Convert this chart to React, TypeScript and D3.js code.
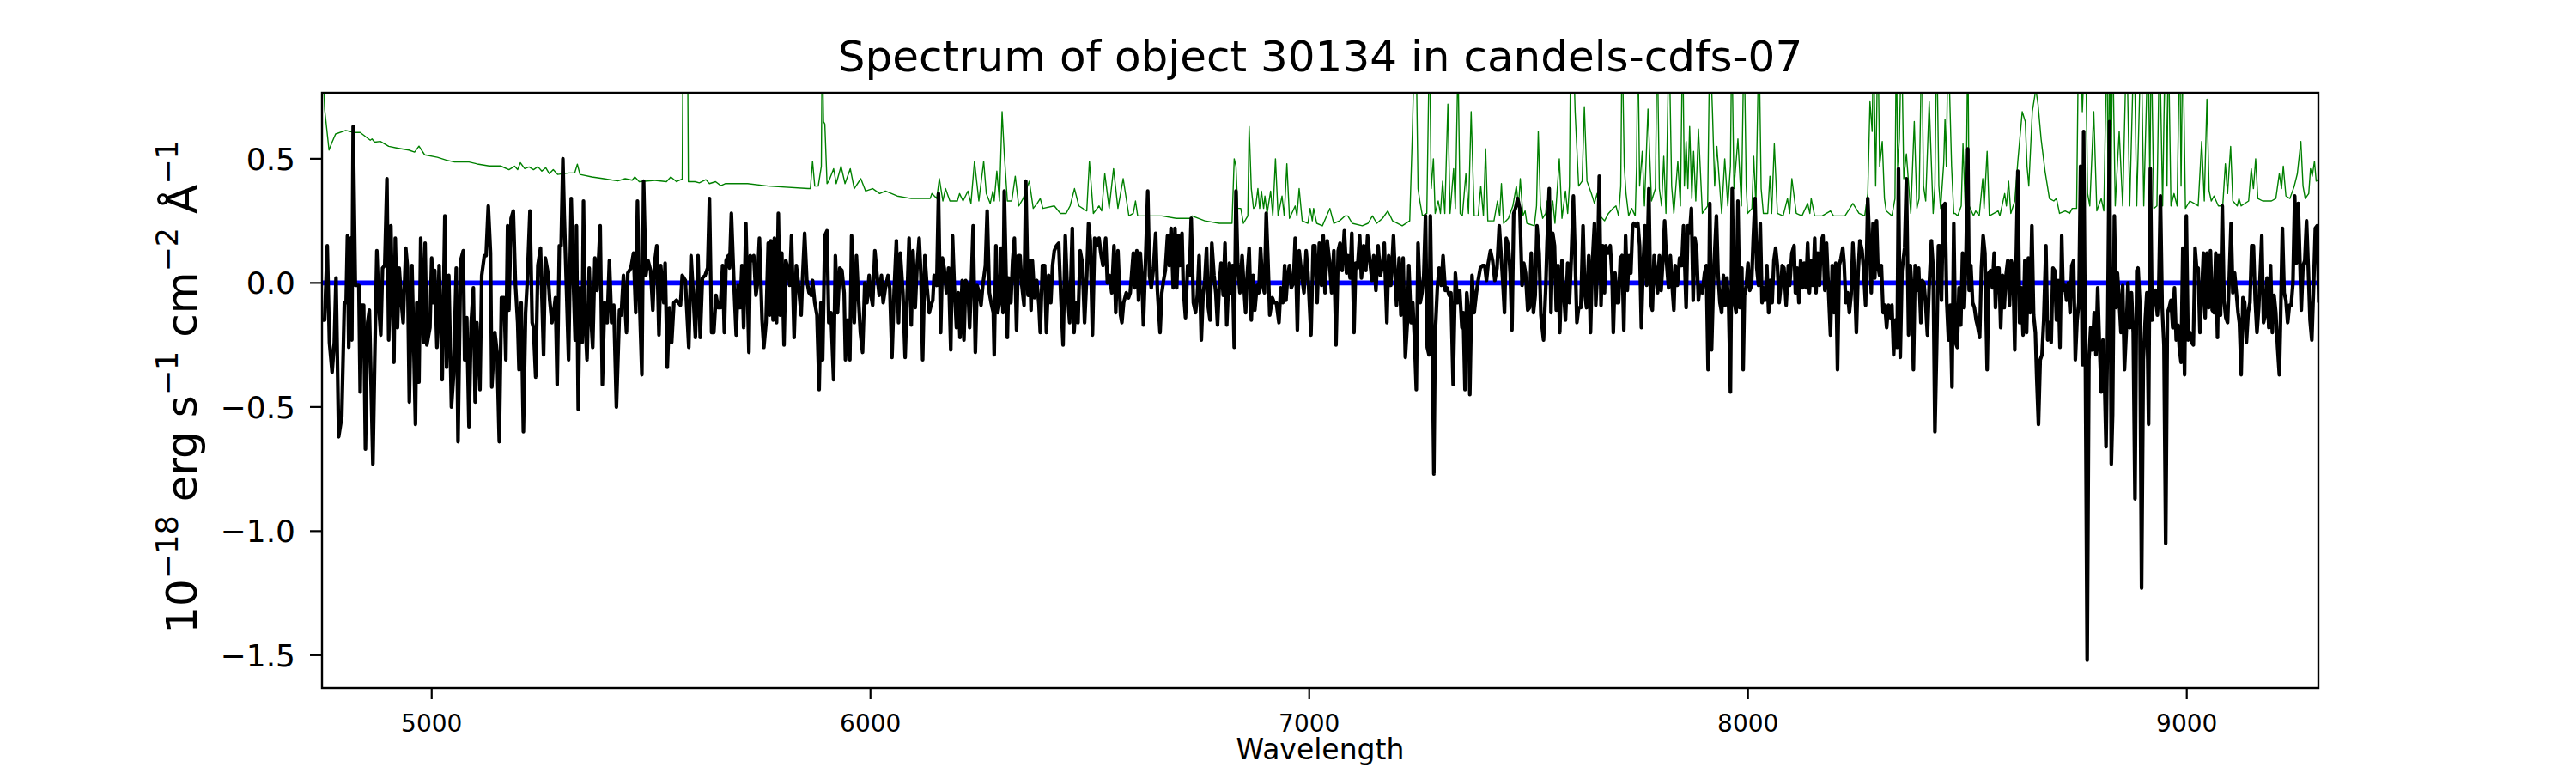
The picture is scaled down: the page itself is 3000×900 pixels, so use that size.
import React from 'react';
import * as d3 from 'd3';

// ---------- axis / tick values ----------
const xDomain: [number, number] = [4750, 9300];
const yDomain: [number, number] = [-1.632, 0.766];
const xTicks = [5000, 6000, 7000, 8000, 9000];
const yTicks = [-1.5, -1.0, -0.5, 0.0, 0.5];
const titleText = 'Spectrum of object 30134 in candels-cdfs-07';
const xLabelText = 'Wavelength';

// ---------- observed flux (black), [wavelength, flux] ----------
const flux4750: [number, number][] = [
[4751,-0.15],[4756,-0.15],[4762,0.15],[4767,-0.24],[4773,-0.36],[4778,-0.24],[4782,0.02],[4788,-0.62],[4795,-0.54],[4801,-0.08],[4805,-0.08],[4808,0.19],[4811,-0.26],[4815,0.18],[4818,-0.23],[4821,0.63],[4826,-0.01],[4834,-0.01],[4837,-0.44],[4840,-0.09],[4845,-0.09],[4849,-0.67],[4854,-0.16],[4858,-0.11],[4866,-0.73],[4870,-0.32],[4875,0.13],[4880,-0.11],[4884,-0.21],[4888,0.06],[4893,0.07],[4898,0.42],[4902,-0.23],[4907,0.23],[4910,-0.05],[4914,-0.32],[4917,0.18],[4922,-0.18],[4926,0.06],[4932,-0.10],[4935,-0.16],[4941,0.14],[4945,0.06],[4949,-0.48],[4955,0.07],[4958,-0.16],[4963,-0.57],[4966,-0.08],[4971,-0.40],[4975,0.18],[4981,-0.24],[4985,0.16],[4989,-0.25],[4996,-0.18],[5000,0.10],[5003,-0.08],[5007,0.05],[5012,-0.26],[5017,0.07],[5024,-0.39],[5030,0.27],[5034,-0.34],[5039,0.03],[5045,-0.50],[5050,-0.37],[5056,0.06],[5060,-0.64],[5066,0.09],[5072,0.13],[5075,-0.31],[5080,-0.14],[5085,-0.58],[5090,-0.16],[5095,-0.02],[5099,-0.48],[5103,-0.16],[5110,-0.43],[5114,0.03],[5120,0.11],[5124,0.11],[5129,0.31],[5134,0.12],[5137,-0.42],[5144,-0.20],[5149,-0.28],[5154,-0.64],[5159,-0.06],[5165,-0.06],[5169,-0.31],[5173,0.23],[5176,-0.11],[5181,0.26],[5186,0.29],[5191,-0.01],[5196,-0.16],[5199,-0.35],[5204,-0.08],[5209,-0.60],[5214,-0.12],[5218,0.01],[5224,0.29],[5229,-0.16],[5232,-0.18],[5237,-0.38],[5242,0.07],[5248,0.14],[5255,-0.29],[5259,0.10],[5265,0.04],[5269,-0.07],[5274,-0.16],[5278,-0.12],[5282,-0.06],[5286,-0.41],[5291,0.15],[5295,0.15],[5299,0.50],[5302,0.28],[5307,-0.01],[5312,-0.31],[5318,0.34],[5322,0.06],[5327,-0.23],[5330,0.23],[5334,-0.51],[5338,-0.02],[5343,-0.24],[5346,0.33],[5349,-0.12],[5354,-0.31],[5359,0.06],[5362,-0.11],[5367,-0.26],[5372,0.10],[5377,-0.03],[5384,0.23],[5389,-0.41],[5394,-0.08],[5400,-0.16],[5405,0.09],[5410,-0.16],[5415,-0.09],[5421,-0.50],[5428,-0.11],[5432,-0.13],[5437,0.03],[5444,-0.20],[5447,0.04],[5454,0.06],[5460,0.12],[5465,-0.12],[5469,0.33],[5473,-0.03],[5479,-0.37],[5483,0.41],[5488,0.03],[5493,0.09],[5499,0.05],[5504,-0.11],[5508,0.08],[5513,0.15],[5518,-0.21],[5522,0.07],[5529,-0.08],[5532,0.08],[5537,-0.34],[5542,-0.10],[5547,-0.24],[5552,-0.08],[5558,-0.07],[5567,-0.09],[5571,0.03],[5578,0.01],[5586,-0.26],[5591,0.11],[5595,-0.01],[5601,-0.22],[5607,0.11],[5612,-0.22],[5617,0.02],[5623,0.03],[5629,0.06],[5633,0.34],[5638,-0.20],[5643,-0.20],[5648,-0.05],[5653,-0.10],[5658,-0.10],[5663,0.07],[5667,-0.20],[5671,0.09],[5676,0.11]
];
const flux5680: [number, number][] = [
[5679,0.06],[5683,0.28],[5689,-0.01],[5694,-0.21],[5698,-0.01],[5703,-0.10],[5707,0.07],[5711,-0.18],[5716,0.24],[5723,-0.28],[5726,0.11],[5731,0.09],[5734,0.11],[5739,-0.05],[5742,-0.01],[5747,0.18],[5753,-0.15],[5757,-0.26],[5762,-0.16],[5767,0.16],[5770,-0.13],[5773,0.17],[5778,-0.15],[5781,0.18],[5786,-0.16],[5790,0.28],[5794,-0.13],[5798,0.12],[5803,-0.25],[5807,0.09],[5813,0.05],[5816,-0.01],[5820,0.19],[5826,-0.22],[5831,0.07],[5835,0.01],[5842,-0.13],[5845,0.01],[5850,0.20],[5855,0.01],[5860,-0.04],[5865,-0.05],[5868,0.01],[5873,-0.08],[5878,-0.13],[5883,-0.43],[5887,-0.08],[5891,-0.31],[5896,0.19],[5901,0.21],[5905,-0.16],[5910,-0.12],[5916,-0.39],[5920,0.11],[5925,-0.12],[5930,0.06],[5935,0.05],[5940,-0.04],[5943,-0.31],[5948,-0.15],[5953,-0.31],[5957,0.19],[5963,-0.16],[5968,0.11],[5972,-0.04],[5977,-0.20],[5982,-0.28],[5987,0.00],[5992,-0.08],[5997,0.03],[6001,-0.05],[6005,-0.09],[6010,0.13],[6015,0.03],[6020,-0.05],[6025,0.03],[6029,-0.08],[6034,-0.02],[6040,0.03],[6044,-0.02],[6049,-0.30],[6054,-0.03],[6059,0.17],[6064,-0.16],[6068,0.12],[6074,-0.04],[6079,-0.30],[6083,-0.08],[6088,0.18],[6093,-0.17],[6097,0.13],[6102,-0.10],[6106,0.06],[6111,0.18],[6115,0.03],[6119,-0.31],[6124,0.11],[6129,-0.02],[6134,-0.12],[6138,-0.09],[6142,-0.07],[6145,0.03],[6151,-0.01],[6155,0.36],[6160,-0.20],[6164,0.10],[6168,0.06],[6173,-0.04],[6178,0.06],[6183,-0.27],[6187,0.19],[6191,-0.01],[6196,-0.18],[6200,-0.04],[6204,-0.22],[6209,0.01],[6213,-0.23],[6217,0.01],[6222,-0.01],[6226,-0.18],[6230,0.01],[6234,0.23],[6239,-0.28],[6243,-0.01],[6248,-0.04],[6252,-0.09],[6256,-0.01],[6262,0.07],[6266,0.29],[6271,-0.04],[6275,-0.08],[6280,-0.12],[6282,-0.29],[6286,0.15],[6290,-0.12],[6294,-0.08],[6298,0.14],[6302,-0.12],[6305,0.37],[6309,0.04],[6312,-0.22],[6315,0.02],[6320,-0.08],[6324,0.09],[6328,0.18],[6333,-0.19],[6337,0.11],[6341,0.11],[6345,-0.01],[6350,-0.09],[6354,0.41],[6359,-0.05],[6363,0.09],[6366,-0.11],[6369,0.09],[6374,-0.06],[6379,0.01],[6384,-0.09],[6387,-0.20],[6392,0.07],[6397,0.07],[6401,-0.20],[6406,0.03],[6411,-0.08],[6415,0.07],[6419,0.13],[6424,0.15],[6429,0.16],[6434,-0.06],[6439,-0.25],[6444,0.19],[6449,-0.04],[6454,-0.16],[6460,0.22],[6464,-0.20],[6468,-0.08],[6473,-0.16],[6478,0.13],[6483,0.08],[6488,-0.16],[6493,0.03],[6497,0.24],[6501,0.17],[6506,-0.21],[6511,0.18],[6515,0.15],[6521,0.18],[6525,0.12],[6530,0.07],[6536,0.18],[6540,0.00],[6545,0.03],[6550,-0.04],[6555,0.15],[6559,-0.12],[6564,0.13],[6570,-0.13],[6573,-0.16],[6577,-0.08],[6583,-0.04],[6588,-0.06],[6592,-0.04],[6599,0.12]
];
const flux6600: [number, number][] = [
[6602,-0.02],[6607,0.13],[6611,-0.07],[6615,0.12],[6619,0.01],[6622,-0.17],[6626,0.04],[6632,0.37],[6636,0.03],[6640,-0.02],[6645,0.06],[6650,0.20],[6654,-0.03],[6660,-0.20],[6664,-0.04],[6668,0.01],[6672,0.05],[6677,0.19],[6681,0.07],[6685,0.22],[6690,-0.02],[6694,0.22],[6698,-0.02],[6702,0.19],[6705,0.07],[6710,0.20],[6713,-0.02],[6718,-0.14],[6723,0.07],[6727,0.03],[6731,0.26],[6736,-0.08],[6741,-0.12],[6745,-0.05],[6749,0.11],[6754,-0.23],[6758,-0.05],[6762,0.01],[6766,0.14],[6770,-0.10],[6774,-0.15],[6778,0.16],[6783,0.03],[6787,-0.04],[6791,-0.17],[6795,-0.01],[6799,0.08],[6804,-0.05],[6808,0.16],[6812,-0.17],[6818,0.08],[6821,-0.04],[6825,0.07],[6829,-0.26],[6833,0.37],[6837,0.08],[6842,-0.04],[6847,0.11],[6851,-0.01],[6855,-0.12],[6859,0.04],[6863,0.14],[6868,-0.15],[6872,0.03],[6876,-0.11],[6881,-0.01],[6885,-0.04],[6889,0.14],[6894,-0.01],[6898,-0.04],[6902,0.28],[6906,0.09],[6910,-0.13],[6916,-0.06],[6920,-0.08],[6925,-0.08],[6931,-0.16],[6935,-0.02],[6940,-0.08],[6944,0.07],[6947,-0.07],[6951,0.03],[6955,0.07],[6959,-0.02],[6964,0.00],[6968,0.18],[6973,-0.19],[6977,0.13],[6983,0.03],[6988,-0.04],[6993,0.13],[6997,0.04],[7004,-0.21],[7009,0.15],[7013,0.15],[7018,-0.08],[7023,0.16],[7028,-0.01],[7032,0.19],[7036,-0.04],[7041,0.17],[7046,0.09],[7051,-0.04],[7056,0.13],[7061,-0.25],[7066,0.13],[7070,0.16],[7075,0.05],[7080,0.21],[7085,0.04],[7088,0.11],[7093,0.02],[7097,0.20],[7102,-0.20],[7106,0.08],[7110,0.06],[7115,0.19],[7119,0.02],[7124,0.15],[7129,0.05],[7133,0.19],[7138,0.09],[7143,0.01],[7147,0.11],[7152,-0.03],[7157,0.15],[7162,0.03],[7167,0.07],[7171,0.16],[7177,-0.16],[7181,0.11],[7186,-0.01],[7192,0.19],[7196,0.03],[7199,-0.09],[7205,0.10],[7209,-0.13],[7214,0.10],[7219,-0.30],[7224,-0.15],[7227,0.07],[7232,-0.16],[7236,-0.08],[7240,-0.23],[7244,-0.43],[7248,0.16],[7253,-0.08],[7257,-0.04],[7261,0.03],[7265,0.27],[7269,-0.26],[7273,-0.29],[7276,0.27],[7281,-0.31],[7284,-0.77],[7287,-0.21],[7292,-0.02],[7296,0.06],[7301,-0.01],[7305,0.11],[7310,-0.03],[7314,-0.02],[7319,-0.05],[7323,-0.04],[7328,-0.41],[7333,0.04],[7338,-0.08],[7343,-0.03],[7348,-0.18],[7351,-0.12],[7355,-0.43],[7359,-0.04],[7363,-0.12],[7366,-0.45],[7371,0.03],[7376,-0.12],[7381,-0.04],[7385,0.01],[7390,0.06],[7395,0.07],[7400,0.07],[7404,0.01],[7408,0.08],[7413,0.13],[7418,0.09],[7423,0.01],[7428,0.06],[7433,0.23],[7437,0.12],[7441,0.01],[7445,-0.12],[7449,0.18],[7454,0.15],[7458,0.04],[7462,-0.19],[7466,0.28],[7470,0.30],[7475,0.34],[7480,0.30],[7485,-0.01],[7489,0.08],[7493,0.04],[7498,-0.11],[7502,-0.10],[7506,0.12],[7511,-0.12],[7515,-0.05],[7519,0.23],[7524,0.12],[7528,-0.13]
];
const flux7530: [number, number][] = [
[7534,-0.23],[7539,-0.02],[7542,0.16],[7547,0.38],[7551,-0.12],[7555,0.20],[7559,0.15],[7563,-0.11],[7567,0.07],[7571,-0.20],[7576,0.09],[7580,-0.04],[7584,-0.15],[7589,0.08],[7593,-0.08],[7597,0.09],[7602,0.35],[7606,0.10],[7610,-0.16],[7614,-0.10],[7619,-0.10],[7624,0.23],[7628,-0.04],[7632,-0.10],[7637,0.11],[7641,-0.20],[7645,0.07],[7650,0.24],[7653,-0.09],[7657,0.05],[7661,0.43],[7665,-0.09],[7669,0.15],[7673,-0.04],[7676,0.15],[7681,0.12],[7686,0.15],[7690,0.03],[7693,-0.20],[7697,0.04],[7702,-0.08],[7705,-0.08],[7709,0.10],[7713,0.11],[7717,-0.19],[7721,0.19],[7725,-0.03],[7729,0.11],[7733,0.04],[7737,0.23],[7740,0.24],[7744,0.23],[7749,0.24],[7753,0.15],[7757,-0.18],[7761,0.07],[7765,0.23],[7769,-0.01],[7774,0.38],[7778,-0.08],[7782,-0.11],[7786,0.11],[7790,0.04],[7794,-0.04],[7798,0.11],[7802,-0.03],[7806,0.09],[7810,0.25],[7814,0.09],[7819,-0.02],[7823,0.11],[7827,-0.01],[7831,-0.11],[7834,0.07],[7839,-0.01],[7844,0.10],[7849,0.07],[7853,0.23],[7859,-0.10],[7863,0.23],[7867,0.20],[7871,0.30],[7875,-0.07],[7879,0.18],[7883,0.13],[7887,-0.07],[7891,-0.01],[7896,-0.04],[7901,0.04],[7905,0.07],[7909,-0.35],[7913,0.32],[7917,-0.27],[7921,-0.01],[7924,0.12],[7928,0.27],[7932,0.03],[7936,-0.08],[7940,-0.12],[7944,0.03],[7948,-0.09],[7952,0.02],[7956,-0.10],[7960,-0.44],[7964,0.38],[7968,-0.07],[7973,-0.12],[7977,0.33],[7981,-0.10],[7986,0.06],[7989,-0.35],[7992,-0.05],[7996,-0.01],[8000,0.08],[8004,-0.03],[8008,-0.01],[8012,0.18],[8016,0.34],[8020,0.06],[8024,-0.01],[8028,0.24],[8032,-0.08],[8035,-0.02],[8039,-0.07],[8043,0.07],[8047,-0.12],[8051,0.01],[8055,-0.08],[8059,0.09],[8063,0.14],[8067,0.07],[8071,-0.08],[8075,-0.01],[8078,0.07],[8082,0.06],[8087,-0.09],[8092,0.07],[8095,-0.01],[8100,0.12],[8105,0.15],[8108,-0.04],[8112,0.06],[8116,-0.08],[8120,0.09],[8124,-0.02],[8128,0.08],[8132,-0.02],[8136,0.16],[8140,-0.04],[8144,0.09],[8148,-0.01],[8152,0.18],[8155,-0.04],[8159,0.12],[8163,-0.01],[8167,0.17],[8171,0.19],[8175,-0.03],[8179,0.16],[8183,-0.01],[8188,-0.21],[8192,0.07],[8196,-0.12],[8200,0.08],[8204,-0.35],[8208,0.07],[8212,0.10],[8216,0.14],[8219,0.08],[8223,-0.08],[8227,-0.04],[8231,-0.12],[8235,-0.05],[8239,0.16],[8243,0.01],[8247,-0.20],[8251,0.04],[8255,0.17],[8260,0.13],[8264,0.04],[8268,-0.09],[8273,0.34],[8277,0.16],[8281,-0.04],[8285,0.24],[8289,0.02],[8293,0.25],[8296,0.07],[8300,0.03],[8304,0.07],[8308,-0.12],[8312,-0.09],[8316,-0.18],[8320,-0.09],[8324,-0.14],[8328,-0.09],[8332,-0.29],[8336,-0.15],[8340,-0.26],[8343,0.46],[8347,-0.30],[8351,0.05],[8357,0.14],[8361,0.42],[8366,-0.21],[8370,0.07],[8373,-0.01],[8377,-0.35],[8381,0.07],[8385,-0.03],[8389,0.06],[8394,-0.16],[8397,0.01],[8401,0.00],[8405,-0.09],[8409,-0.21],[8413,-0.01],[8418,0.17],[8422,0.06],[8426,-0.60],[8430,-0.26],[8434,0.15],[8437,0.15],[8441,-0.07],[8445,0.31],[8449,0.32],[8453,-0.08],[8457,-0.23],[8461,-0.09],[8465,-0.42]
];
const flux8470: [number, number][] = [
[8469,0.24],[8473,-0.24],[8477,-0.26],[8481,-0.02],[8485,-0.17],[8489,0.12],[8493,-0.10],[8497,0.12],[8501,0.54],[8504,-0.03],[8508,0.07],[8512,-0.08],[8516,-0.10],[8520,-0.15],[8524,-0.18],[8528,-0.22],[8532,0.06],[8536,0.19],[8540,0.12],[8545,-0.35],[8549,0.04],[8553,0.05],[8557,-0.02],[8561,0.12],[8564,-0.10],[8568,0.06],[8572,0.06],[8576,-0.18],[8580,0.03],[8584,-0.10],[8588,0.03],[8592,0.09],[8596,-0.09],[8600,0.09],[8604,0.06],[8608,-0.27],[8611,0.07],[8615,0.45],[8619,-0.16],[8623,-0.02],[8627,-0.21],[8631,0.09],[8635,-0.20],[8639,0.10],[8643,-0.12],[8647,0.23],[8651,-0.13],[8655,-0.20],[8658,-0.38],[8662,-0.57],[8666,-0.31],[8670,-0.29],[8674,-0.15],[8679,0.15],[8683,-0.23],[8687,-0.16],[8691,-0.24],[8695,0.06],[8699,0.05],[8703,-0.15],[8707,0.01],[8711,-0.26],[8715,0.19],[8718,-0.03],[8722,-0.01],[8726,-0.07],[8730,0.00],[8734,-0.12],[8738,0.07],[8742,0.09],[8746,-0.31],[8750,-0.15],[8754,-0.08],[8758,0.47],[8762,-0.33],[8765,0.61],[8769,-0.33],[8773,-1.52],[8777,-0.31],[8781,-0.18],[8785,-0.27],[8789,-0.12],[8793,-0.29],[8797,-0.02],[8801,-0.25],[8805,-0.44],[8809,-0.23],[8812,-0.35],[8816,-0.66],[8820,-0.13],[8824,0.65],[8828,-0.73],[8831,-0.53],[8835,0.27],[8839,-0.10],[8842,0.04],[8846,-0.07],[8850,-0.20],[8854,-0.01],[8858,-0.35],[8862,-0.20],[8866,0.00],[8870,-0.18],[8874,-0.04],[8878,-0.20],[8882,-0.87],[8886,0.05],[8889,0.06],[8893,-0.08],[8897,-1.23],[8901,-0.31],[8905,-0.16],[8909,-0.04],[8913,-0.57],[8917,0.46],[8921,-0.15],[8925,-0.04],[8929,-0.03],[8933,-0.13],[8936,-0.04],[8940,0.35],[8944,-0.10],[8948,-0.25],[8952,-1.05],[8956,-0.12],[8960,-0.10],[8964,-0.07],[8968,-0.18],[8972,-0.02],[8976,-0.23],[8980,-0.17],[8983,-0.26],[8987,-0.32],[8991,0.14],[8995,-0.37],[8999,0.27],[9003,-0.23],[9007,-0.20],[9011,-0.24],[9015,-0.25],[9019,0.14],[9023,0.05],[9026,0.06],[9030,-0.20],[9034,-0.05],[9038,0.12],[9042,-0.14],[9046,0.12],[9050,-0.10],[9054,0.13],[9058,-0.11],[9062,-0.12],[9066,0.12],[9070,-0.22],[9073,0.11],[9077,-0.13],[9081,0.31],[9085,-0.07],[9089,-0.14],[9093,-0.16],[9097,0.03],[9101,0.24],[9105,-0.04],[9109,0.04],[9113,-0.04],[9117,-0.12],[9120,-0.16],[9124,-0.37],[9128,-0.06],[9132,-0.08],[9136,-0.24],[9140,-0.12],[9144,-0.08],[9148,0.15],[9152,0.15],[9156,-0.07],[9160,-0.20],[9164,-0.10],[9167,0.02],[9171,0.19],[9175,-0.16],[9179,-0.13],[9183,0.02],[9187,-0.18],[9191,0.07],[9195,-0.20],[9199,-0.05],[9203,-0.12],[9207,-0.26],[9211,-0.37],[9214,-0.13],[9218,0.22],[9222,-0.04],[9226,-0.07],[9230,-0.16],[9234,-0.09],[9238,-0.09],[9242,0.00],[9246,0.35],[9250,0.08],[9254,0.32],[9258,0.08],[9261,-0.11],[9265,0.07],[9269,0.09],[9273,0.25],[9277,0.06],[9281,-0.15],[9285,-0.23],[9289,-0.02],[9293,0.22],[9297,0.23],[9301,-0.08]
];

// ---------- error / sky spectrum (green) ----------
const sky4750: [number, number][] = [
[4750,1.0],[4756,0.7],[4766,0.535],[4773,0.567],[4781,0.60],[4804,0.614],[4824,0.606],[4837,0.606],[4860,0.575],[4864,0.58],[4870,0.567],[4883,0.57],[4902,0.55],[4922,0.543],[4948,0.535],[4961,0.527],[4971,0.551],[4984,0.516],[5013,0.506],[5033,0.495],[5052,0.487],[5085,0.487],[5104,0.479],[5131,0.471],[5157,0.471],[5176,0.456],[5189,0.47],[5196,0.456],[5202,0.484],[5212,0.46],[5222,0.467],[5232,0.456],[5242,0.468],[5251,0.45],[5260,0.464],[5268,0.44],[5277,0.456],[5287,0.437],[5313,0.443],[5326,0.443],[5332,0.478],[5338,0.437],[5365,0.427],[5392,0.42],[5424,0.411],[5441,0.42],[5457,0.414],[5463,0.427],[5473,0.408],[5509,0.413],[5535,0.408],[5545,0.427],[5558,0.408],[5571,0.419],[5575,1.6],[5581,1.6],[5585,0.408],[5600,0.408],[5610,0.403],[5625,0.416],[5633,0.40],[5647,0.408],[5659,0.392]
];
const sky5670: [number, number][] = [
[5669,0.40],[5720,0.40],[5767,0.39],[5858,0.38],[5863,0.38],[5868,0.49],[5873,0.39],[5881,0.39],[5888,0.47],[5890,1.0],[5893,0.65],[5896,0.64],[5901,0.40],[5905,0.41],[5916,0.46],[5922,0.40],[5933,0.47],[5942,0.40],[5954,0.46],[5963,0.38],[5978,0.42],[5989,0.37],[6005,0.38],[6021,0.36],[6034,0.37],[6061,0.35],[6093,0.34],[6126,0.34],[6136,0.34],[6140,0.36],[6151,0.34],[6157,0.42],[6165,0.33],[6171,0.38],[6181,0.33],[6198,0.33],[6203,0.36],[6211,0.33],[6222,0.37],[6229,0.32],[6237,0.49],[6247,0.33],[6258,0.49],[6264,0.36],[6273,0.32],[6279,0.37],[6282,0.33],[6288,0.45],[6294,0.33],[6300,0.69],[6305,0.52],[6312,0.33],[6322,0.33],[6330,0.43],[6338,0.31],[6348,0.34],[6362,0.41],[6371,0.30],[6380,0.32],[6387,0.34],[6393,0.30],[6419,0.31],[6433,0.28],[6446,0.28],[6455,0.31],[6465,0.38],[6475,0.31],[6493,0.29],[6499,0.49],[6508,0.28],[6521,0.31],[6527,0.29],[6534,0.44],[6544,0.30],[6554,0.46],[6564,0.30],[6576,0.42],[6589,0.27]
];
const sky6600: [number, number][] = [
[6599,0.28],[6604,0.33],[6609,0.27],[6638,0.27],[6664,0.27],[6697,0.26],[6729,0.26],[6733,0.27],[6762,0.25],[6795,0.24],[6824,0.24],[6829,0.50],[6833,0.47],[6837,0.30],[6844,0.30],[6850,0.24],[6860,0.27],[6863,0.63],[6868,0.38],[6873,0.30],[6878,0.31],[6883,0.38],[6887,0.30],[6891,0.37],[6896,0.30],[6899,0.35],[6904,0.28],[6912,0.37],[6917,0.27],[6923,0.50],[6929,0.27],[6938,0.35],[6943,0.27],[6949,0.48],[6955,0.26],[6968,0.31],[6972,0.27],[6977,0.38],[6984,0.25],[6997,0.24],[7002,0.30],[7007,0.25],[7010,0.30],[7017,0.24],[7030,0.23],[7047,0.30],[7056,0.24],[7069,0.25],[7082,0.27],[7088,0.27],[7098,0.24],[7121,0.23],[7134,0.24],[7144,0.27],[7154,0.24],[7167,0.26],[7179,0.29],[7190,0.25],[7212,0.23],[7229,0.25],[7235,0.60],[7239,0.9],[7245,0.77],[7248,0.38],[7252,0.33],[7258,0.27],[7268,0.28],[7274,1.0],[7278,0.38],[7283,0.50],[7287,0.28],[7294,0.33],[7299,0.28],[7304,0.41],[7309,0.28],[7316,0.72],[7321,0.28],[7329,0.46],[7333,0.30],[7339,0.9],[7344,0.28],[7349,0.27],[7357,0.44],[7363,0.28],[7369,0.69],[7376,0.27],[7385,0.27],[7391,0.39],[7397,0.27],[7402,0.54],[7407,0.25],[7421,0.25],[7429,0.33],[7434,0.27],[7438,0.40],[7443,0.24],[7454,0.26],[7464,0.31],[7472,0.39],[7477,0.31],[7481,0.42],[7487,0.27],[7492,0.29],[7496,0.24],[7513,0.23],[7518,0.31],[7522,0.61],[7527,0.31],[7532,0.26],[7539,0.28]
];
const sky7540: [number, number][] = [
[7541,0.33],[7547,0.25],[7555,0.33],[7560,0.24],[7570,0.50],[7576,0.26],[7584,0.37],[7589,0.28],[7593,0.39],[7596,1.0],[7601,1.0],[7606,0.69],[7614,0.39],[7622,0.41],[7627,0.71],[7633,0.41],[7643,0.36],[7650,0.32],[7656,0.36],[7663,0.27],[7673,0.25],[7682,0.28],[7692,0.30],[7699,0.31],[7705,0.27],[7710,0.39],[7713,1.0],[7718,0.47],[7722,0.36],[7728,0.27],[7735,0.30],[7743,0.27],[7746,0.47],[7749,1.0],[7753,0.39],[7759,0.53],[7764,0.31],[7772,0.70],[7780,0.33],[7789,0.38],[7793,1.0],[7798,0.38],[7803,0.31],[7808,0.51],[7813,0.28],[7820,1.0],[7826,0.39],[7831,0.28],[7840,0.49],[7846,0.31],[7851,1.0],[7855,0.39],[7859,0.57],[7863,0.38],[7867,0.63],[7872,0.34],[7876,0.53],[7881,0.33],[7887,0.62],[7896,0.28],[7908,0.31],[7913,1.0],[7919,0.69],[7924,0.39],[7929,0.55],[7940,0.28],[7947,0.50],[7954,0.31],[7960,0.47],[7963,1.0],[7968,0.38],[7977,0.58],[7985,0.31],[7991,1.0],[7996,0.39],[7999,0.28],[8009,0.30],[8013,0.51],[8018,0.31],[8025,1.0],[8030,0.38],[8035,0.28],[8045,0.28],[8050,0.43],[8054,0.28],[8060,0.56],[8067,0.28],[8080,0.27],[8090,0.34],[8095,0.28],[8100,0.42],[8110,0.28],[8123,0.27],[8136,0.32],[8141,0.28],[8144,0.34],[8152,0.27],[8169,0.27],[8188,0.29],[8195,0.27],[8221,0.27],[8239,0.32],[8253,0.28],[8266,0.27],[8273,0.36],[8278,0.73],[8283,0.61],[8286,1.0],[8291,0.39],[8296,1.0],[8300,0.47],[8306,0.57],[8311,0.34],[8315,0.29],[8328,0.27],[8335,0.34],[8338,1.0],[8341,0.47],[8345,0.58],[8350,1.0],[8355,0.42],[8361,0.52],[8371,0.28],[8379,0.65],[8385,0.30],[8390,0.34],[8396,1.0],[8400,0.39],[8405,0.33],[8413,0.73],[8422,0.28],[8426,0.39],[8430,1.0],[8435,0.39],[8439,0.30],[8446,0.48],[8449,0.66],[8452,0.47],[8456,1.0],[8464,0.47],[8469,0.28]
];
const sky8470: [number, number][] = [
[8472,0.28],[8478,0.27],[8486,0.31],[8490,0.56],[8495,0.31],[8498,0.47],[8501,1.0],[8504,0.31],[8514,0.27],[8519,0.29],[8527,0.27],[8535,0.42],[8538,0.30],[8545,0.53],[8550,0.27],[8570,0.29],[8574,0.27],[8585,0.36],[8589,0.31],[8594,0.41],[8599,0.28],[8608,0.33],[8615,0.49],[8625,0.69],[8632,0.65],[8636,0.47],[8640,0.39],[8648,0.69],[8656,0.78],[8661,0.72],[8668,0.58],[8677,0.45],[8687,0.34],[8697,0.33],[8703,0.34],[8710,0.28],[8723,0.29],[8733,0.28],[8739,0.30],[8749,0.30],[8752,0.78],[8758,1.0],[8762,0.69],[8769,1.0],[8774,0.36],[8779,0.31],[8788,0.69],[8795,0.29],[8805,0.34],[8811,0.29],[8818,1.0],[8821,0.31],[8824,1.0],[8827,0.31],[8831,1.0],[8837,0.31],[8846,0.61],[8854,0.31],[8863,1.0],[8870,0.31],[8880,1.0],[8886,0.31],[8896,1.0],[8902,0.31],[8912,1.0],[8916,0.39],[8919,1.0],[8925,0.30],[8932,0.31],[8938,1.0],[8945,0.31],[8951,1.0],[8955,0.39],[8958,1.0],[8964,0.31],[8971,0.36],[8978,0.31],[8984,1.0],[8987,0.39],[8991,1.0],[8997,0.30],[9007,0.33],[9017,0.32],[9026,0.31],[9034,0.57],[9040,0.33],[9046,0.74],[9051,0.37],[9056,0.33],[9062,0.35],[9072,0.31],[9082,0.31],[9088,0.48],[9093,0.36],[9100,0.55],[9105,0.33],[9115,0.31],[9119,0.34],[9124,0.31],[9141,0.33],[9147,0.46],[9152,0.38],[9157,0.50],[9162,0.34],[9173,0.33],[9193,0.33],[9203,0.34],[9211,0.44],[9216,0.38],[9220,0.47],[9226,0.35],[9235,0.34],[9245,0.39],[9252,0.44],[9260,0.57],[9265,0.39],[9270,0.34],[9278,0.36],[9282,0.46],[9286,0.43],[9291,0.49],[9295,0.41],[9301,0.42]
];

// ---------- model (blue) ----------
const modelWave = [4750, 9300];
const modelFlux = [0, 0];

const fluxData = [...flux4750, ...flux5680, ...flux6600, ...flux7530, ...flux8470];
const skyData = [...sky4750, ...sky5670, ...sky6600, ...sky7540, ...sky8470];
const modelData: [number, number][] = modelWave.map((w, i) => [w, modelFlux[i]]);

const W = 3000;
const H = 900;
const plot = { left: 375, right: 2700, top: 108, bottom: 801 };
const FONT = 'DejaVu Sans, Liberation Sans, sans-serif';

export default function App() {
  const x = d3.scaleLinear().domain(xDomain).range([plot.left, plot.right]);
  const y = d3.scaleLinear().domain(yDomain).range([plot.bottom, plot.top]);
  const line = d3
    .line<[number, number]>()
    .x((d) => x(d[0]))
    .y((d) => y(d[1]));
  const fmtY = d3.format('.1f');
  const cx = (plot.left + plot.right) / 2;
  const cy = (plot.top + plot.bottom) / 2;

  return (
    <svg
      width={W}
      height={H}
      viewBox={`0 0 ${W} ${H}`}
      style={{ position: 'absolute', left: 0, top: 0, background: '#fff' }}
      fontFamily={FONT}
    >
      <rect x={0} y={0} width={W} height={H} fill="#fff" />
      <defs>
        <clipPath id="plotClip">
          <rect x={plot.left} y={plot.top} width={plot.right - plot.left} height={plot.bottom - plot.top} />
        </clipPath>
      </defs>
      <g clipPath="url(#plotClip)">
        <path d={line(skyData) || ''} fill="none" stroke="#008000" strokeWidth={1.4} strokeLinejoin="round" />
        <path d={line(modelData) || ''} fill="none" stroke="#0000ff" strokeWidth={5.6} />
        <path d={line(fluxData) || ''} fill="none" stroke="#000" strokeWidth={4.2} strokeLinejoin="round" />
      </g>
      {/* frame */}
      <rect
        x={plot.left}
        y={plot.top}
        width={plot.right - plot.left}
        height={plot.bottom - plot.top}
        fill="none"
        stroke="#000"
        strokeWidth={2.4}
      />
      {/* x ticks */}
      {xTicks.map((t) => (
        <g key={'x' + t}>
          <line x1={x(t)} x2={x(t)} y1={plot.bottom} y2={plot.bottom + 13} stroke="#000" strokeWidth={2.2} />
          <text x={x(t)} y={852} fontSize={28} textAnchor="middle" fill="#000">
            {t}
          </text>
        </g>
      ))}
      {/* y ticks */}
      {yTicks.map((t) => (
        <g key={'y' + t}>
          <line x1={plot.left - 14} x2={plot.left} y1={y(t)} y2={y(t)} stroke="#000" strokeWidth={2.2} />
          <text x={344} y={y(t) + 13} fontSize={36} textAnchor="end" fill="#000">
            {fmtY(t)}
          </text>
        </g>
      ))}
      {/* title */}
      <text x={cx} y={83} fontSize={50} textAnchor="middle" fill="#000">
        {titleText}
      </text>
      {/* x label */}
      <text x={cx} y={884} fontSize={33} textAnchor="middle" fill="#000">
        {xLabelText}
      </text>
      {/* y label */}
      <text
        transform={`translate(229, ${cy - 4}) rotate(-90)`}
        fontSize={50}
        textAnchor="middle"
        fill="#000"
      >
        <tspan>10</tspan>
        <tspan dy={-22} fontSize={35}>−18</tspan>
        <tspan dy={22}> erg s</tspan>
        <tspan dy={-22} fontSize={35}>−1</tspan>
        <tspan dy={22}> cm</tspan>
        <tspan dy={-22} fontSize={35}>−2</tspan>
        <tspan dy={22}> Å</tspan>
        <tspan dy={-22} fontSize={35}>−1</tspan>
      </text>
    </svg>
  );
}
